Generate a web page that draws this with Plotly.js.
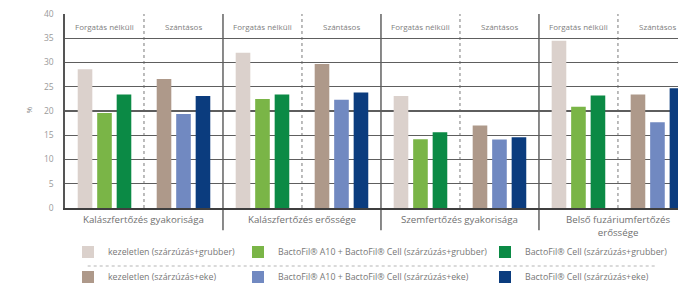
<!DOCTYPE html>
<html>
<head>
<meta charset="utf-8">
<script src="https://cdn.plot.ly/plotly-3.0.1.min.js"></script>
<style>html,body{margin:0;padding:0;background:#fff;}#chart{width:678px;height:284px;}</style>
</head>
<body>
<div id="chart"></div>
<script>
// ---- data ----
const groups = ["Kalászfertőzés gyakorisága", "Kalászfertőzés erőssége", "Szemfertőzés gyakorisága", "Belső fuzáriumfertőzés<br>erőssége"];
const tillage = ["Forgatás nélküli", "Szántásos"];
const yTicks = [0, 5, 10, 15, 20, 25, 30, 35, 40];
const yUnit = "%";

const kezeletlenGrubber = [28.6, 32.0, 23.1, 34.5];
const a10CellGrubber    = [19.6, 22.5, 14.2, 20.9];
const cellGrubber       = [23.4, 23.4, 15.6, 23.2];
const kezeletlenEke     = [26.6, 29.7, 17.0, 23.4];
const a10CellEke        = [19.4, 22.3, 14.1, 17.7];
const cellEke           = [23.1, 23.8, 14.6, 24.7];

const seriesNames = [
  "kezeletlen (szárzúzás+grubber)",
  "BactoFil® A10 + BactoFil® Cell (szárzúzás+grubber)",
  "BactoFil® Cell (szárzúzás+grubber)",
  "kezeletlen (szárzúzás+eke)",
  "BactoFil® A10 + BactoFil® Cell (szárzúzás+eke)",
  "BactoFil® Cell (szárzúzás+eke)"
];
const seriesValues = [kezeletlenGrubber, a10CellGrubber, cellGrubber, kezeletlenEke, a10CellEke, cellEke];

// ---- styles ----
const seriesColors = ["#dbd1cc", "#7ab547", "#0b8a45", "#ae998a", "#7189c1", "#0b3c7e"];
const FONT = "Open Sans, Roboto, sans-serif";

// categories: one per (group, tillage)
const cats = [];
groups.forEach((g, gi) => tillage.forEach(t => cats.push(g + " | " + t)));

const slots = ["a", "b", "c"];
const legendIds = ["legend", "legend2", "legend3"];
const traces = seriesValues.map((vals, si) => {
  const till = si < 3 ? 0 : 1;
  return {
    type: "bar",
    name: seriesNames[si],
    x: groups.map((g, gi) => cats[gi * 2 + till]),
    y: vals,
    marker: {color: seriesColors[si]},
    offsetgroup: slots[si % 3],
    legend: legendIds[si % 3],
    legendgroup: "s" + si,
    hoverinfo: "y+name"
  };
});

const shapes = [];
// dotted separators between tillage halves
for (let gi = 0; gi < groups.length; gi++) {
  shapes.push({type: "line", xref: "x", yref: "y", x0: gi * 2 + 0.5, x1: gi * 2 + 0.5, y0: 0, y1: 40,
    line: {color: "#7a7a7a", width: 1, dash: "dot"}, layer: "below"});
}
// solid group boundaries (extend below axis)
for (let gi = 1; gi < groups.length; gi++) {
  shapes.push({type: "line", xref: "x", yref: "paper", x0: gi * 2 - 0.5, x1: gi * 2 - 0.5, y0: -0.115, y1: 1,
    line: {color: "#4a4a4a", width: 1.3}, layer: "below"});
}
// dashed separator between legend rows
shapes.push({type: "line", xref: "paper", yref: "paper", x0: 0.037, x1: 0.966, y0: -0.299, y1: -0.299,
  line: {color: "#b5b5b5", width: 1, dash: "dot"}});

const annotations = [];
cats.forEach((c, i) => {
  annotations.push({xref: "x", yref: "y", x: i, y: 37.5, text: tillage[i % 2], showarrow: false,
    font: {family: FONT, size: 8, color: "#808080"}});
});
groups.forEach((g, gi) => {
  annotations.push({xref: "x", yref: "paper", x: gi * 2 + 0.5, y: 0, yanchor: "top", yshift: -3,
    text: g, showarrow: false, font: {family: FONT, size: 9.7, color: "#707070"}});
});
annotations.push({xref: "paper", yref: "paper", x: -0.072, y: 0.505, text: yUnit, textangle: -90,
  showarrow: false, font: {family: FONT, size: 8, color: "#888"}});

const legendBase = {xref: "container", yref: "container", xanchor: "left", yanchor: "top",
  orientation: "v", tracegroupgap: 6, traceorder: "grouped", bgcolor: "rgba(0,0,0,0)",
  font: {family: FONT, size: 8.8, color: "#777"}};

const layout = {
  width: 678, height: 284,
  margin: {l: 65, r: 0, t: 14, b: 76, autoexpand: false},
  paper_bgcolor: "#fff", plot_bgcolor: "#fff",
  font: {family: FONT, color: "#777"},
  barmode: "group", bargap: 0.26, bargroupgap: 0.25,
  showlegend: true,
  legend:  Object.assign({}, legendBase, {x: 68 / 678,  y: 1 - 237.5 / 284}),
  legend2: Object.assign({}, legendBase, {x: 238 / 678, y: 1 - 237.5 / 284}),
  legend3: Object.assign({}, legendBase, {x: 485 / 678, y: 1 - 237.5 / 284}),
  xaxis: {type: "category", categoryorder: "array", categoryarray: cats,
    range: [-0.5, 7.26], showticklabels: false, ticks: "", showgrid: false,
    showline: true, linecolor: "#3f3f3f", linewidth: 1.6, zeroline: false, fixedrange: true, automargin: false},
  yaxis: {range: [0, 40], tickvals: yTicks, ticktext: yTicks.map(String), showgrid: true,
    gridcolor: "#5e5e5e", gridwidth: 1.1, zeroline: false, showline: true, linecolor: "#555", linewidth: 1.6,
    ticks: "", ticklabelstandoff: 8, tickfont: {family: FONT, size: 8.5, color: "#9a9a9a"}, automargin: false,
    fixedrange: true},
  shapes: shapes,
  annotations: annotations
};

Plotly.newPlot("chart", traces, layout, {displayModeBar: false, staticPlot: true});
</script>
</body>
</html>
